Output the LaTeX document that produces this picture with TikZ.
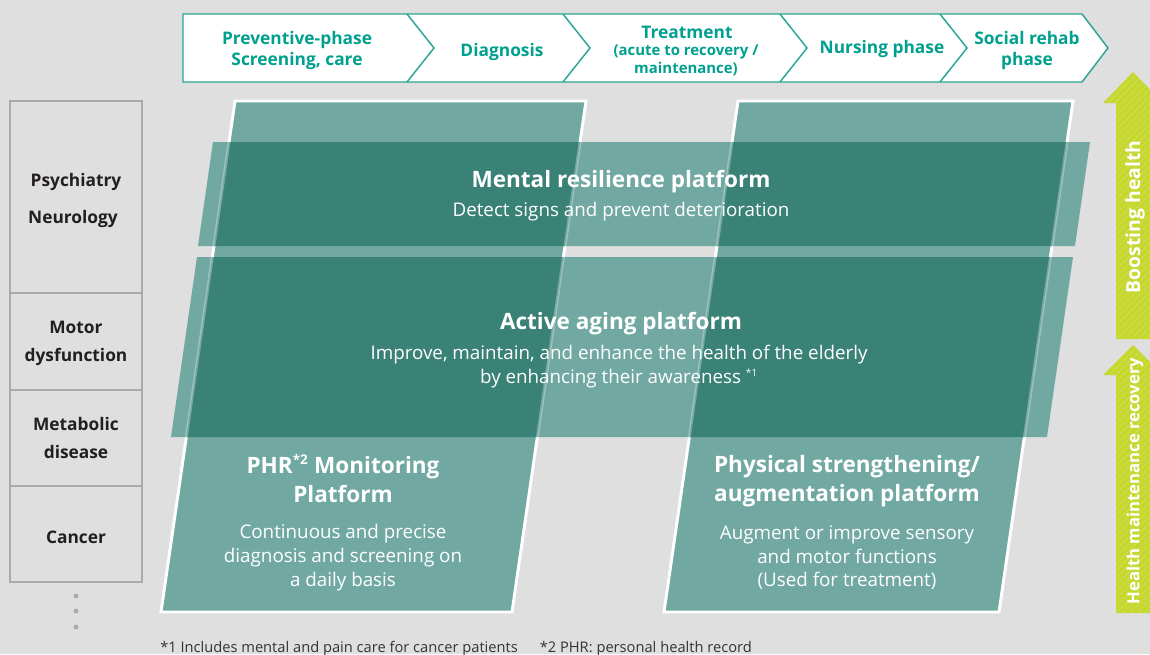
\documentclass[tikz,border=0pt]{standalone}
\usepackage{fontspec}
\setmainfont{Open Sans}
\definecolor{bg}{HTML}{DEDFDE}
\definecolor{tealL}{HTML}{71A9A2}
\definecolor{tealD}{HTML}{3A8276}
\definecolor{phase}{HTML}{00A08F}
\definecolor{phaseline}{HTML}{2AA597}
\definecolor{lime}{HTML}{C6D72E}
\definecolor{limeS}{HTML}{D3E163}
\definecolor{grayB}{HTML}{A9AAAA}
\definecolor{txt}{HTML}{231F20}
\definecolor{foot}{HTML}{333333}
\tikzset{
  phasetxt/.style={text=phase, font=\bfseries\fontsize{13}{15.75}\selectfont, align=center, inner sep=0pt, yshift=-1.6pt},
  phasesub/.style={text=phase, font=\bfseries\fontsize{11.2}{13.5}\selectfont, align=center, inner sep=0pt, yshift=-1.2pt},
  cattxt/.style={text=txt, font=\bfseries\fontsize{13}{21}\selectfont, align=center, inner sep=0pt, yshift=-1.6pt},
  ptitle/.style={text=white, font=\bfseries\fontsize{16.9}{21.75}\selectfont, align=center, inner sep=0pt, yshift=-2pt},
  psub/.style={text=white, font=\fontsize{14.1}{17.8}\selectfont, align=center, inner sep=0pt, yshift=-2pt},
  armtxt/.style={text=white, font=\bfseries\fontsize{12.5}{15}\selectfont, inner sep=0pt, rotate=90},
  vpara/.style={fill=tealL, draw=white, line width=2.2},
}
\begin{document}
\begin{tikzpicture}[x=0.75pt,y=-0.75pt]
\useasboundingbox (0,0) rectangle (1150,654);
\fill[bg] (0,0) rectangle (1150,654);

% ---------- phase bar ----------
\draw[phaseline, line width=1.1, fill=white] (183,14) -- (1082,14) -- (1108,48) -- (1082,82) -- (183,82) -- cycle;
\foreach \a/\b in {407/434, 563/590, 780/807, 940/967}
  \draw[phaseline, line width=1.1] (\a,14) -- (\b,48) -- (\a,82);
\node[phasetxt] (p1) at (297,48) {Preventive-phase\\Screening, care};
\node[phasetxt] (p2) at (502,50) {Diagnosis};
\node[phasetxt] (p3) at (687,30) {Treatment};
\node[phasesub] (p3s) at (686,59) {(acute to recovery /\\maintenance)};
\node[phasetxt] (p4) at (882,47) {Nursing phase};
\node[phasetxt] (p5) at (1027,48) {Social rehab\\phase};

% ---------- category column ----------
\draw[grayB, line width=2.2] (10,101) rectangle (142,582);
\foreach \yy in {293,390,486}
  \draw[grayB, line width=1.3] (10,\yy) -- (142,\yy);
\node[cattxt] (c1a) at (76,180) {Psychiatry};
\node[cattxt] (c1b) at (73,217) {Neurology};
\node[cattxt] (c2) at (76,341) {Motor\\dysfunction};
\node[cattxt] (c3) at (76,436) {Metabolic\\disease};
\node[cattxt] (c4) at (76,535) {Cancer};
\foreach \yy in {596,611,627}
  \fill[grayB] (76,\yy) circle (2.4);

% ---------- vertical platforms ----------
\path[vpara] (235,101) -- (586,101) -- (512,612) -- (161,612) -- cycle;
\path[vpara] (738,101) -- (1073,101) -- (999,612) -- (664,612) -- cycle;

% ---------- horizontal platforms ----------
\fill[tealL] (213,142) -- (1090,142) -- (1075,246) -- (198,246) -- cycle;
\fill[tealL] (197,257) -- (1073,257) -- (1047,437) -- (171,437) -- cycle;
\begin{scope}
  \clip (213,142) -- (1090,142) -- (1075,246) -- (198,246) -- cycle
        (197,257) -- (1073,257) -- (1047,437) -- (171,437) -- cycle;
  \fill[tealD] (235,101) -- (586,101) -- (512,612) -- (161,612) -- cycle;
  \fill[tealD] (738,101) -- (1073,101) -- (999,612) -- (664,612) -- cycle;
  \draw[white, opacity=0.3, line width=2.2] (235,101) -- (586,101) -- (512,612) -- (161,612) -- cycle;
  \draw[white, opacity=0.3, line width=2.2] (738,101) -- (1073,101) -- (999,612) -- (664,612) -- cycle;
\end{scope}

% ---------- platform texts ----------
\node[ptitle] (m1) at (621,179) {Mental resilience platform};
\node[psub] (m2) at (621,209) {Detect signs and prevent deterioration};
\node[ptitle] (a1) at (621,321) {Active aging platform};
\node[psub] (a2) at (619,364) {Improve, maintain, and enhance the health of the elderly\\by enhancing their awareness \textsuperscript{\fontsize{7.5}{8}\selectfont *1}};
\node[ptitle] (h1) at (343,476) {PHR\textsuperscript{\fontsize{10}{10}\selectfont *2} Monitoring\\Platform};
\node[psub] (h2) at (343,555) {Continuous and precise\\diagnosis and screening on\\a daily basis};
\node[ptitle] (s1) at (847,478) {Physical strengthening/\\augmentation platform};
\node[psub] (s2) at (847,555) {Augment or improve sensory\\and motor functions\\(Used for treatment)};

% ---------- green arrows ----------
\begin{scope}
  \clip (0,0) rectangle (1150,654);
  \fill[lime] (1116,339) -- (1116,103) -- (1103,103) -- (1133,72) -- (1163,103) -- (1150,103) -- (1150,339) -- cycle;
  \fill[lime] (1116,613) -- (1116,375) -- (1103,375) -- (1133,345) -- (1163,375) -- (1150,375) -- (1150,613) -- cycle;
  \clip (1116,339) -- (1116,103) -- (1103,103) -- (1133,72) -- (1163,103) -- (1150,103) -- (1150,339) -- cycle
        (1116,613) -- (1116,375) -- (1103,375) -- (1133,345) -- (1163,375) -- (1150,375) -- (1150,613) -- cycle;
  \foreach \i in {60,67,...,720}
    \draw[limeS, line width=0.45] (1095,\i) -- ++(70,-70);
\end{scope}
\node[armtxt, font=\bfseries\fontsize{14.5}{15}\selectfont] (b1) at (1135,217) {Boosting health};
\node[armtxt] (b2) at (1135,481) {Health maintenance recovery};

% ---------- footnote ----------
\node[text=foot, font=\fontsize{11}{12}\selectfont, anchor=west, inner sep=0pt, yshift=-2pt] (fn) at (160,646) {*1 Includes mental and pain care for cancer patients\hspace{1.5em}*2 PHR: personal health record};
\end{tikzpicture}
\end{document}
